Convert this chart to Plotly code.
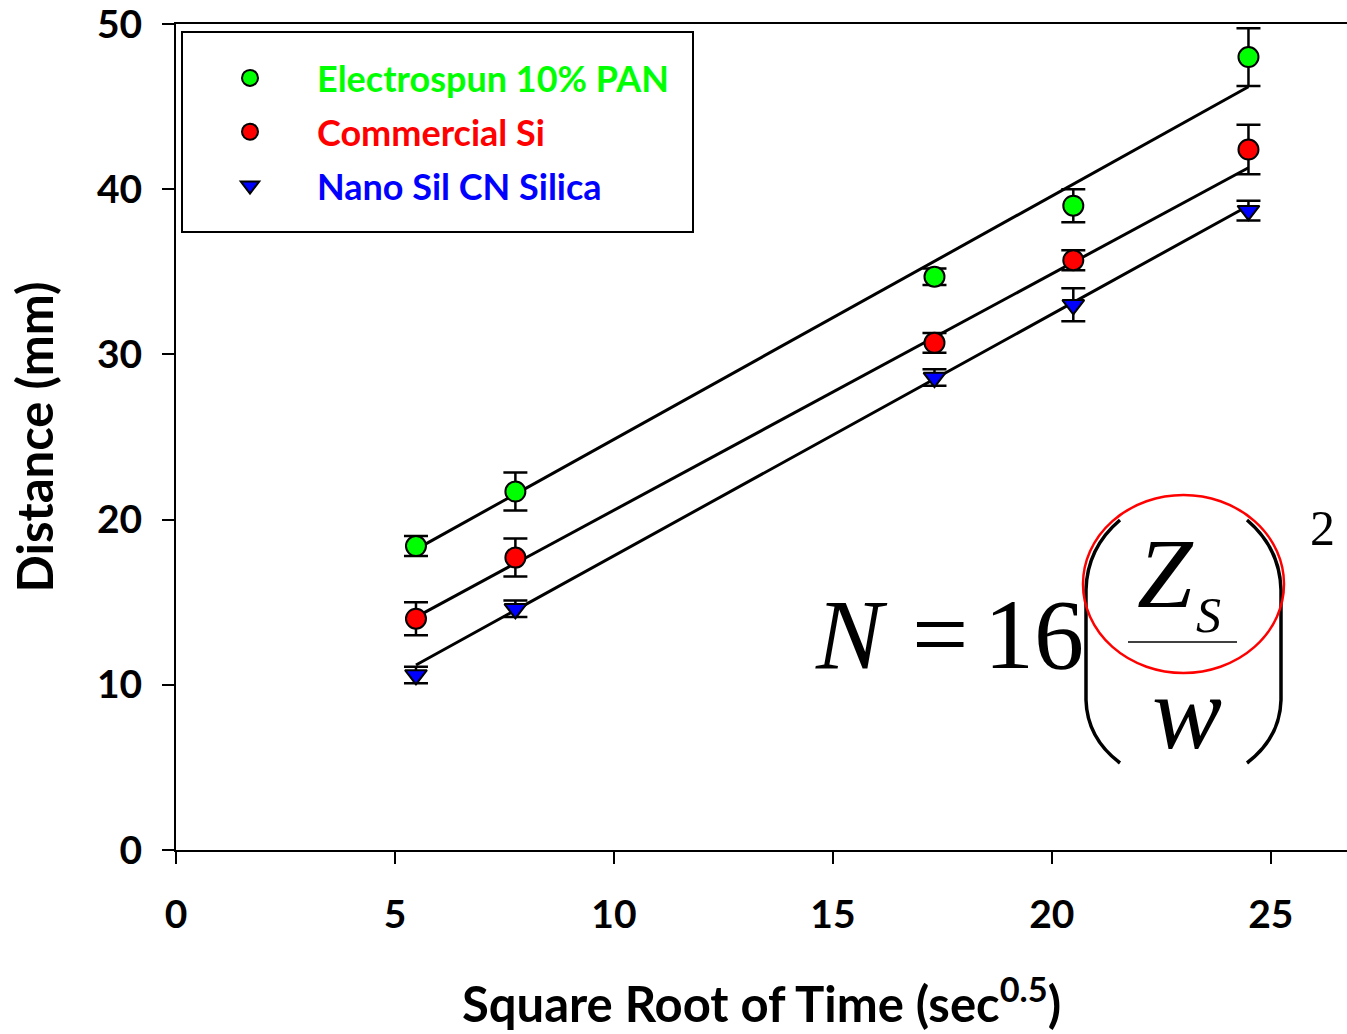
import plotly.graph_objects as go

# ---------------- data ----------------
sqrt_time = [5.48, 7.75, 17.32, 20.49, 24.49]

pan_vals = [18.4, 21.7, 34.7, 39.0, 48.0]
pan_err = [0.6, 1.15, 0.5, 1.0, 1.75]

si_vals = [14.0, 17.7, 30.7, 35.7, 42.4]
si_err = [1.0, 1.15, 0.6, 0.6, 1.5]

nano_vals = [10.6, 14.6, 28.6, 33.0, 38.7]
nano_err = [0.5, 0.5, 0.5, 1.0, 0.6]

fit_x = [5.48, 24.49]
pan_fit = [18.2, 46.2]
si_fit = [14.1, 41.3]
nano_fit = [11.2, 39.0]

series_names = ["Electrospun 10% PAN", "Commercial Si", "Nano Sil CN Silica"]
series_colors = ["#00ff00", "#ff0000", "#0000ff"]

x_ticks = [0, 5, 10, 15, 20, 25]
y_ticks = [0, 10, 20, 30, 40, 50]

# ---------------- layout geometry ----------------
W, H = 1347, 1034
L, T = 176, 24     # plot left / top in pixels
PB = 850           # plot bottom in pixels
B = H - PB
R = 0
PW = W - R - L
PH = PB - T
X_MAX = 26.74


def px(p):
    """screen x pixel -> paper x"""
    return (p - L) / PW


def py(p):
    """screen y pixel -> paper y"""
    return (PB - p) / PH


fig = go.Figure()

# fit lines
for fy in [pan_fit, si_fit, nano_fit]:
    fig.add_trace(go.Scatter(x=fit_x, y=fy, mode="lines",
                             line=dict(color="black", width=3),
                             showlegend=False, hoverinfo="skip"))

symbols = ["circle", "circle", "triangle-down"]
vals = [pan_vals, si_vals, nano_vals]
errs = [pan_err, si_err, nano_err]
for i in range(3):
    fig.add_trace(go.Scatter(
        x=sqrt_time, y=vals[i], mode="markers",
        name=f"<span style='color:{series_colors[i]}'>{series_names[i]}</span>",
        legendgroup=f"g{i}",
        marker=dict(symbol=symbols[i], size=20 if i < 2 else 19,
                    color=series_colors[i],
                    line=dict(color="black", width=2)),
        error_y=dict(type="data", array=errs[i], visible=True,
                     color="black", thickness=2.5, width=12),
    ))

fig.update_layout(
    width=W, height=H,
    margin=dict(l=L, r=R, t=T, b=B),
    paper_bgcolor="white", plot_bgcolor="white",
    font=dict(family="Lato", color="black"),
    xaxis=dict(range=[0, X_MAX], tickvals=x_ticks, ticks="outside",
               ticklen=12, tickwidth=2, tickcolor="black",
               showline=True, linecolor="black", linewidth=2, mirror=True,
               showgrid=False, zeroline=False,
               tickfont=dict(family="Lato", size=39, color="black", weight="bold"),
               ticklabelstandoff=17, ticklabeloverflow="allow",
               title=dict(text="<b>Square Root of Time (sec<sup>0.5</sup>)</b>",
                          font=dict(family="Lato", size=49, color="black"),
                          standoff=53)),
    yaxis=dict(range=[0, 50], tickvals=y_ticks, ticks="outside",
               ticklen=12, tickwidth=2, tickcolor="black",
               showline=True, linecolor="black", linewidth=2,
               showgrid=False, zeroline=False,
               tickfont=dict(family="Lato", size=39, color="black", weight="bold"),
               ticklabelstandoff=12, ticklabeloverflow="allow",
               title=dict(text="<b>Distance (mm)</b>",
                          font=dict(family="Lato", size=49, color="black"),
                          standoff=28)),
    legend=dict(x=px(183), y=py(48), xanchor="left", yanchor="top",
                bgcolor="rgba(0,0,0,0)", borderwidth=0,
                font=dict(family="Lato", size=36, weight="bold"),
                itemwidth=124, tracegroupgap=4, traceorder="grouped",
                itemsizing="trace"),
    showlegend=True,
)

# legend frame
fig.add_shape(type="rect", xref="paper", yref="paper",
              x0=px(182), x1=px(693), y0=py(32), y1=py(232),
              line=dict(color="black", width=2), fillcolor="rgba(0,0,0,0)",
              layer="below")

# ---------------- equation N = 16 (Zs / w)^2 ----------------
serif = "Liberation Serif"


def ann(text, cx, cy, size, italic=True):
    fig.add_annotation(xref="paper", yref="paper", x=px(cx), y=py(cy),
                       xanchor="center", yanchor="middle", showarrow=False,
                       text=text,
                       font=dict(family=serif, size=size, color="black",
                                 style="italic" if italic else "normal"))


ann("N", 851, 634, 100)
ann("=", 940, 634, 100, italic=False)
ann("16", 1034, 634, 100, italic=False)
ann("Z", 1165, 573, 100)
ann("S", 1208, 615, 50)
ann("w", 1187, 712, 105)
ann("2", 1322, 528, 50, italic=False)

# fraction bar
fig.add_shape(type="line", xref="paper", yref="paper",
              x0=px(1128), x1=px(1237), y0=py(642), y1=py(642),
              line=dict(color="black", width=1.5))


def path(points):
    s = ""
    for cmd, coords in points:
        s += cmd
        s += " ".join(f"{px(a):.5f},{py(b):.5f}" for (a, b) in coords) + " "
    return s.strip()


left_paren = path([("M", [(1120, 520)]),
                   ("Q", [(1087, 548), (1086, 590)]),
                   ("L", [(1086, 700)]),
                   ("Q", [(1087, 738), (1120, 763)])])
right_paren = path([("M", [(1247, 520)]),
                    ("Q", [(1280, 548), (1281, 590)]),
                    ("L", [(1281, 700)]),
                    ("Q", [(1280, 738), (1247, 763)])])
for pth in [left_paren, right_paren]:
    fig.add_shape(type="path", xref="paper", yref="paper", path=pth,
                  line=dict(color="black", width=3.5))

# red ellipse
fig.add_shape(type="circle", xref="paper", yref="paper",
              x0=px(1083), x1=px(1284), y0=py(673), y1=py(495),
              line=dict(color="#ff0000", width=2.5))

fig.write_html("out.html",
               config={"displayModeBar": False},
               post_script="document.body.style.margin='0';"
                           "document.body.style.overflow='hidden';")
